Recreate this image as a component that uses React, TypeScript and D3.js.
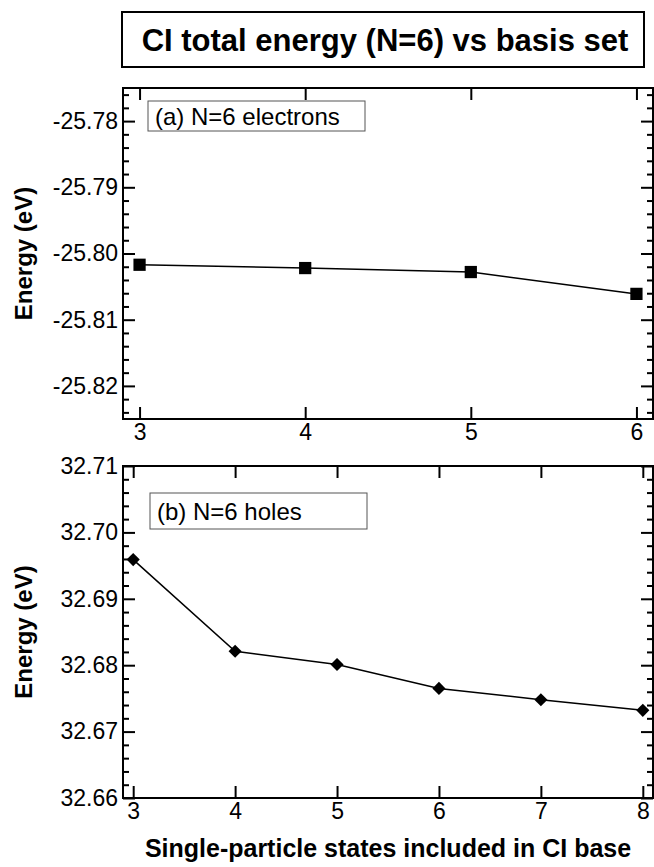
import React, { useEffect, useRef } from 'react';
import * as d3 from 'd3';

// panel (a): N=6 electrons
const statesA = [3, 4, 5, 6];
const energyA = [-25.8017, -25.8022, -25.8028, -25.8061];
const yTicksA = [-25.78, -25.79, -25.8, -25.81, -25.82];

// panel (b): N=6 holes
const statesB = [3, 4, 5, 6, 7, 8];
const energyB = [32.6959, 32.6821, 32.6801, 32.6765, 32.6748, 32.6732];
const yTicksB = [32.71, 32.7, 32.69, 32.68, 32.67, 32.66];

const titleText = 'CI total energy (N=6) vs basis set';
const xLabel = 'Single-particle states included in CI base';
const yLabel = 'Energy (eV)';
const legendA = '(a) N=6 electrons';
const legendB = '(b) N=6 holes';

const W = 654;
const H = 867;
const FONT = '"Liberation Sans", Arial, Helvetica, sans-serif';

const drawPanel = (svg, opt) => {
  const { top, bottom, left, right, xDomain, yDomain, xs, ys, yTicks, legend, legendBox, marker } = opt;
  const x = d3.scaleLinear().domain(xDomain).range([left, right]);
  const y = d3.scaleLinear().domain(yDomain).range([bottom, top]);
  const g = svg.append('g');

  // every 0.002 step; multiples of 0.01 are the labelled ones
  const steps = d3.range(Math.ceil(yDomain[0] * 500 - 1e-6), Math.floor(yDomain[1] * 500 + 1e-6) + 1);
  const allY = steps.map(i => i / 500);
  const isMajor = v => yTicks.some(t => Math.abs(t - v) < 1e-6);

  const styleAxis = sel => {
    sel.select('.domain').remove();
    sel.selectAll('line').attr('stroke', '#000').attr('stroke-width', 2);
    sel.selectAll('text').attr('font-family', FONT).attr('font-size', 23).attr('fill', '#000');
  };

  const leftAxis = g.append('g').attr('transform', `translate(${left},0)`)
    .call(d3.axisLeft(y).tickValues(allY).tickSize(-12).tickPadding(5)
      .tickFormat(d => (isMajor(d) ? d.toFixed(2) : '')))
    .call(styleAxis);
  leftAxis.selectAll('.tick line').attr('x2', d => (isMajor(d) ? 12 : 6));

  const rightAxis = g.append('g').attr('transform', `translate(${right},0)`)
    .call(d3.axisRight(y).tickValues(allY).tickSize(-12).tickFormat(() => ''))
    .call(styleAxis);
  rightAxis.selectAll('.tick line').attr('x2', d => (isMajor(d) ? -12 : -6));

  g.append('g').attr('transform', `translate(0,${bottom})`)
    .call(d3.axisBottom(x).tickValues(xs).tickSize(-12).tickPadding(5).tickFormat(d3.format('d')))
    .call(styleAxis);
  g.append('g').attr('transform', `translate(0,${top})`)
    .call(d3.axisTop(x).tickValues(xs).tickSize(-12).tickFormat(() => ''))
    .call(styleAxis);

  // frame
  g.append('rect')
    .attr('x', left).attr('y', top)
    .attr('width', right - left).attr('height', bottom - top)
    .attr('fill', 'none').attr('stroke', '#000').attr('stroke-width', 2);

  // legend
  g.append('rect')
    .attr('x', legendBox.x).attr('y', legendBox.y)
    .attr('width', legendBox.w).attr('height', legendBox.h)
    .attr('fill', '#fff').attr('stroke', '#555').attr('stroke-width', 1);
  g.append('text')
    .attr('x', legendBox.x + 7).attr('y', legendBox.y + legendBox.h / 2 + 8.5)
    .attr('font-family', FONT).attr('font-size', 24)
    .text(legend);

  // line
  const pts = xs.map((v, i) => [x(v), y(ys[i])]);
  g.append('path')
    .attr('d', d3.line()(pts))
    .attr('fill', 'none').attr('stroke', '#000').attr('stroke-width', 1.5);

  const sym = marker === 'square'
    ? d3.symbol().type(d3.symbolSquare).size(150)
    : d3.symbol().type(d3.symbolDiamond2).size(110);
  g.selectAll('path.mk')
    .data(pts)
    .enter()
    .append('path')
    .attr('class', 'mk')
    .attr('d', sym)
    .attr('transform', d => `translate(${d[0]},${d[1]})`)
    .attr('fill', '#000');

  // y label
  g.append('text')
    .attr('transform', `translate(32,${(top + bottom) / 2}) rotate(-90)`)
    .attr('text-anchor', 'middle')
    .attr('font-family', FONT).attr('font-size', 24).attr('font-weight', 'bold')
    .text(yLabel);
};

export default function App() {
  const ref = useRef(null);

  useEffect(() => {
    const svg = d3.select(ref.current);
    svg.selectAll('*').remove();

    // title box
    svg.append('rect')
      .attr('x', 122).attr('y', 12).attr('width', 522).attr('height', 55)
      .attr('fill', 'none').attr('stroke', '#000').attr('stroke-width', 2);
    svg.append('text')
      .attr('x', 385).attr('y', 51)
      .attr('text-anchor', 'middle')
      .attr('font-family', FONT).attr('font-size', 31).attr('font-weight', 'bold')
      .text(titleText);

    drawPanel(svg, {
      top: 88, bottom: 419, left: 123, right: 653,
      xDomain: [2.9, 6.1], yDomain: [-25.825, -25.775],
      xs: statesA, ys: energyA, yTicks: yTicksA,
      legend: legendA, legendBox: { x: 148, y: 101, w: 217, h: 30 },
      marker: 'square',
    });

    drawPanel(svg, {
      top: 466, bottom: 798, left: 123, right: 653,
      xDomain: [2.9, 8.1], yDomain: [32.66, 32.71],
      xs: statesB, ys: energyB, yTicks: yTicksB,
      legend: legendB, legendBox: { x: 150, y: 493, w: 217, h: 36 },
      marker: 'diamond',
    });

    svg.append('text')
      .attr('x', 388).attr('y', 857)
      .attr('text-anchor', 'middle')
      .attr('font-family', FONT).attr('font-size', 25).attr('font-weight', 'bold')
      .text(xLabel);
  }, []);

  return (
    <svg ref={ref} width={W} height={H} style={{ position: 'absolute', left: 0, top: 0, background: '#fff' }} />
  );
}
